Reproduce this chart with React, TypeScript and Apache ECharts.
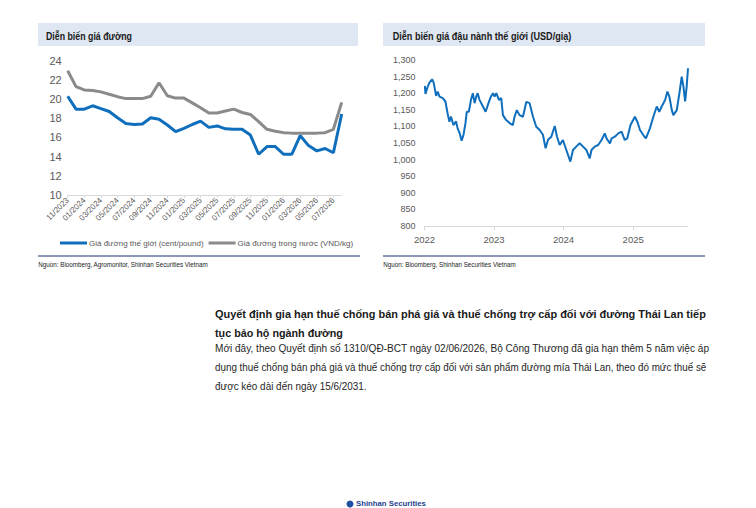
import React, { useEffect, useRef } from 'react';
import * as echarts from 'echarts';

const months = [
  '11/2023', '12/2023', '01/2024', '02/2024', '03/2024', '04/2024', '05/2024', '06/2024', '07/2024', '08/2024',
  '09/2024', '10/2024', '11/2024', '12/2024', '01/2025', '02/2025', '03/2025', '04/2025', '05/2025', '06/2025',
  '07/2025', '08/2025', '09/2025', '10/2025', '11/2025', '12/2025', '01/2026', '02/2026', '03/2026', '04/2026',
  '05/2026', '06/2026', '07/2026', '08/2026',
];
const worldSugar = [
  20.3, 18.95, 18.95, 19.3, 19.0, 18.7, 18.05, 17.45, 17.35, 17.4,
  18.05, 17.9, 17.3, 16.6, 16.95, 17.35, 17.7, 17.05, 17.2, 16.9,
  16.85, 16.85, 16.25, 14.25, 15.05, 15.05, 14.25, 14.25, 16.2, 15.15,
  14.6, 14.85, 14.4, 18.45,
];
const domesticSugar = [
  22.95, 21.3, 20.95, 20.9, 20.75, 20.5, 20.25, 20.05, 20.05, 20.05,
  20.3, 21.7, 20.35, 20.1, 20.1, 19.6, 19.1, 18.55, 18.55, 18.75,
  18.95, 18.6, 18.4, 17.65, 16.85, 16.65, 16.5, 16.45, 16.45, 16.45,
  16.45, 16.5, 16.85, 19.65,
];
const sugarNames = ['Giá đường thế giới (cent/pound)', 'Giá đường trong nước (VND/kg)'];

const soyDates = [
  '2022-01-03', '2022-01-06', '2022-01-18', '2022-01-27', '2022-02-10', '2022-02-18', '2022-03-03', '2022-03-11',
  '2022-03-21', '2022-04-07', '2022-04-21', '2022-05-04', '2022-05-12', '2022-05-20', '2022-06-02', '2022-06-16',
  '2022-06-24', '2022-07-05', '2022-07-15', '2022-07-25', '2022-08-04', '2022-08-11', '2022-08-22', '2022-09-02',
  '2022-09-12', '2022-09-21', '2022-09-30', '2022-10-07', '2022-10-17', '2022-11-04', '2022-11-18', '2022-11-30',
  '2022-12-09', '2022-12-16', '2022-12-27', '2023-01-04', '2023-01-13', '2023-01-27', '2023-02-08', '2023-02-17',
  '2023-03-06', '2023-03-24', '2023-04-10', '2023-04-19', '2023-05-01', '2023-05-15', '2023-06-02', '2023-06-20',
  '2023-07-07', '2023-07-25', '2023-08-11', '2023-08-29', '2023-09-15', '2023-09-29', '2023-10-12', '2023-10-29',
  '2023-11-16', '2023-11-28', '2023-12-12', '2023-12-29', '2024-01-16', '2024-02-06', '2024-02-20', '2024-03-08',
  '2024-03-26', '2024-04-13', '2024-04-30', '2024-05-18', '2024-05-27', '2024-06-13', '2024-07-01', '2024-07-19',
  '2024-08-05', '2024-08-14', '2024-09-01', '2024-09-10', '2024-09-27', '2024-10-15', '2024-11-01', '2024-11-18',
  '2024-12-01', '2024-12-18', '2025-01-10', '2025-01-23', '2025-02-06', '2025-02-23', '2025-03-09', '2025-03-30',
  '2025-04-17', '2025-05-05', '2025-05-18', '2025-05-31', '2025-06-18', '2025-06-30', '2025-07-10', '2025-07-23',
  '2025-07-31', '2025-08-18', '2025-09-01', '2025-09-13', '2025-09-22', '2025-10-01', '2025-10-09', '2025-10-16',
];
const soyPrices = [
  1222, 1198, 1220, 1232, 1242, 1232, 1192, 1205,
  1190, 1185, 1175, 1134, 1114, 1130, 1104, 1115,
  1094, 1079, 1057, 1075, 1109, 1144, 1144, 1180,
  1200, 1170, 1190, 1200, 1180, 1160, 1144, 1165,
  1180, 1190, 1200, 1190, 1200, 1180, 1185, 1134,
  1119, 1110, 1104, 1129, 1149, 1134, 1129, 1174,
  1170, 1129, 1099, 1089, 1075, 1034, 1060, 1069,
  1101, 1069, 1044, 1059, 1029, 994, 1029, 1039,
  1049, 1039, 1029, 1004, 1029, 1039, 1044, 1059,
  1079, 1064, 1049, 1064, 1069, 1079, 1084, 1059,
  1064, 1104, 1129, 1114, 1089, 1074, 1064, 1094,
  1129, 1160, 1144, 1160, 1180, 1205, 1190, 1149,
  1134, 1149, 1200, 1250, 1220, 1175, 1220, 1275,
];

const titleLeft = 'Diễn biến giá đường';
const titleRight = 'Diễn biến giá đậu nành thế giới (USD/giạ)';
const sourceLeft = 'Nguồn: Bloomberg, Agromonitor, Shinhan Securities Vietnam';
const sourceRight = 'Nguồn: Bloomberg, Shinhan Securities Vietnam';
const headLines = [
  'Quyết định gia hạn thuế chống bán phá giá và thuế chống trợ cấp đối với đường Thái Lan tiếp',
  'tục bảo hộ ngành đường',
];
const bodyLines = [
  'Mới đây, theo Quyết định số 1310/QĐ-BCT ngày 02/06/2026, Bộ Công Thương đã gia hạn thêm 5 năm việc áp',
  'dụng thuế chống bán phá giá và thuế chống trợ cấp đối với sản phẩm đường mía Thái Lan, theo đó mức thuế sẽ',
  'được kéo dài đến ngày 15/6/2031.',
];
const footerBrand = 'Shinhan Securities';

const FONT = 'Liberation Sans';

function fitScale(text: string, size: number, weight: string, target: number): number {
  const c = document.createElement('canvas').getContext('2d');
  if (!c) return 1;
  c.font = `${weight} ${size}px "${FONT}"`;
  const w = c.measureText(text).width;
  return w > 0 ? target / w : 1;
}

function fitted(text: string, x: number, y: number, size: number, weight: string, target: number, fill: string) {
  return {
    type: 'text',
    x,
    y,
    scaleX: fitScale(text, size, weight, target),
    style: {
      text,
      fill,
      fontSize: size,
      fontWeight: weight,
      fontFamily: FONT,
      textAlign: 'left',
      textVerticalAlign: 'middle',
    },
  };
}

export default function App() {
  const ref = useRef<HTMLDivElement>(null);

  useEffect(() => {
    if (!ref.current) return;
    const chart = echarts.init(ref.current, undefined, { renderer: 'svg' });
    const axisGray = '#d9d9d9';
    const labelGray = '#595959';

    const option: any = {
      animation: false,
      backgroundColor: '#ffffff',
      textStyle: { fontFamily: FONT },
      grid: [
        { left: 67.7, right: 414.3, top: 60.7, bottom: 313 },
        { left: 424.5, right: 68, top: 60, bottom: 282 },
      ],
      legend: {
        data: sugarNames,
        left: 55,
        top: 234,
        icon: 'rect',
        itemWidth: 27,
        itemHeight: 3,
        itemGap: 5,
        textStyle: { fontSize: 8, color: labelGray, fontFamily: FONT, padding: [0, 0, 0, -3] },
      },
      xAxis: [
        {
          type: 'category',
          gridIndex: 0,
          data: months,
          boundaryGap: false,
          axisLine: { lineStyle: { color: axisGray } },
          axisTick: { show: true, interval: 1, length: 3, lineStyle: { color: axisGray } },
          axisLabel: { interval: 1, rotate: 45, fontSize: 8, color: labelGray, margin: 4 },
          splitLine: { show: false },
        },
        {
          type: 'time',
          gridIndex: 1,
          min: '2022-01-01',
          max: '2025-10-16',
          minInterval: 365 * 24 * 3600 * 1000,
          maxInterval: 366 * 24 * 3600 * 1000,
          axisLine: { lineStyle: { color: axisGray } },
          axisTick: { show: true, length: 4, lineStyle: { color: axisGray } },
          axisLabel: { formatter: '{yyyy}', fontSize: 9.5, color: labelGray, margin: 8 },
          splitLine: { show: false },
        },
      ],
      yAxis: [
        {
          type: 'value',
          gridIndex: 0,
          min: 10,
          max: 24,
          interval: 2,
          axisLine: { show: false },
          axisTick: { show: false },
          splitLine: { show: false },
          axisLabel: { fontSize: 11, color: labelGray, margin: 6 },
        },
        {
          type: 'value',
          gridIndex: 1,
          min: 800,
          max: 1300,
          interval: 50,
          axisLine: { show: false },
          axisTick: { show: false },
          splitLine: { show: false },
          axisLabel: {
            fontSize: 9,
            color: labelGray,
            margin: 9,
            formatter: (v: number) => v.toLocaleString('en-US'),
          },
        },
      ],
      series: [
        {
          name: sugarNames[0],
          type: 'line',
          xAxisIndex: 0,
          yAxisIndex: 0,
          data: worldSugar,
          showSymbol: false,
          lineStyle: { width: 3, color: '#0f6fbd' },
          itemStyle: { color: '#0f6fbd' },
        },
        {
          name: sugarNames[1],
          type: 'line',
          xAxisIndex: 0,
          yAxisIndex: 0,
          data: domesticSugar,
          showSymbol: false,
          lineStyle: { width: 3, color: '#8a8a8a' },
          itemStyle: { color: '#8a8a8a' },
        },
        {
          name: 'Giá đậu nành',
          type: 'line',
          xAxisIndex: 1,
          yAxisIndex: 1,
          data: soyDates.map((d, i) => [d, soyPrices[i]]),
          showSymbol: false,
          lineStyle: { width: 2, color: '#0f6fbd' },
          itemStyle: { color: '#0f6fbd' },
        },
      ],
      graphic: [
        { type: 'rect', shape: { x: 38, y: 23, width: 320, height: 23 }, style: { fill: '#dfe7f2' } },
        { type: 'rect', shape: { x: 383, y: 23, width: 322, height: 23 }, style: { fill: '#dfe7f2' } },
        fitted(titleLeft, 46, 36, 11, 'bold', 86, '#1a1a1a'),
        fitted(titleRight, 392.7, 36, 11, 'bold', 179, '#1a1a1a'),
        { type: 'line', shape: { x1: 38, y1: 256, x2: 360, y2: 256 }, style: { stroke: '#1f2c6e', lineWidth: 1 } },
        { type: 'line', shape: { x1: 383, y1: 256, x2: 705, y2: 256 }, style: { stroke: '#1f2c6e', lineWidth: 1 } },
        fitted(sourceLeft, 38.3, 265, 8, 'normal', 170, '#1a1a1a'),
        fitted(sourceRight, 383.3, 265, 8, 'normal', 132.7, '#1a1a1a'),
        fitted(headLines[0], 215, 313.5, 11, 'bold', 491, '#1a1a1a'),
        fitted(headLines[1], 215, 332.5, 11, 'bold', 128, '#1a1a1a'),
        fitted(bodyLines[0], 215, 348, 11.5, 'normal', 495, '#262626'),
        fitted(bodyLines[1], 215, 367, 11.5, 'normal', 492, '#262626'),
        fitted(bodyLines[2], 215, 386, 11.5, 'normal', 151.7, '#262626'),
        { type: 'circle', shape: { cx: 350, cy: 504, r: 3.5 }, style: { fill: '#1e4fa3' } },
        fitted(footerBrand, 356, 503.5, 7, 'bold', 70, '#1e3f8f'),
      ],
    };

    chart.setOption(option);
    return () => chart.dispose();
  }, []);

  return (
    <div
      ref={ref}
      style={{ position: 'absolute', left: 0, top: 0, width: 756, height: 508, background: '#ffffff' }}
    />
  );
}
